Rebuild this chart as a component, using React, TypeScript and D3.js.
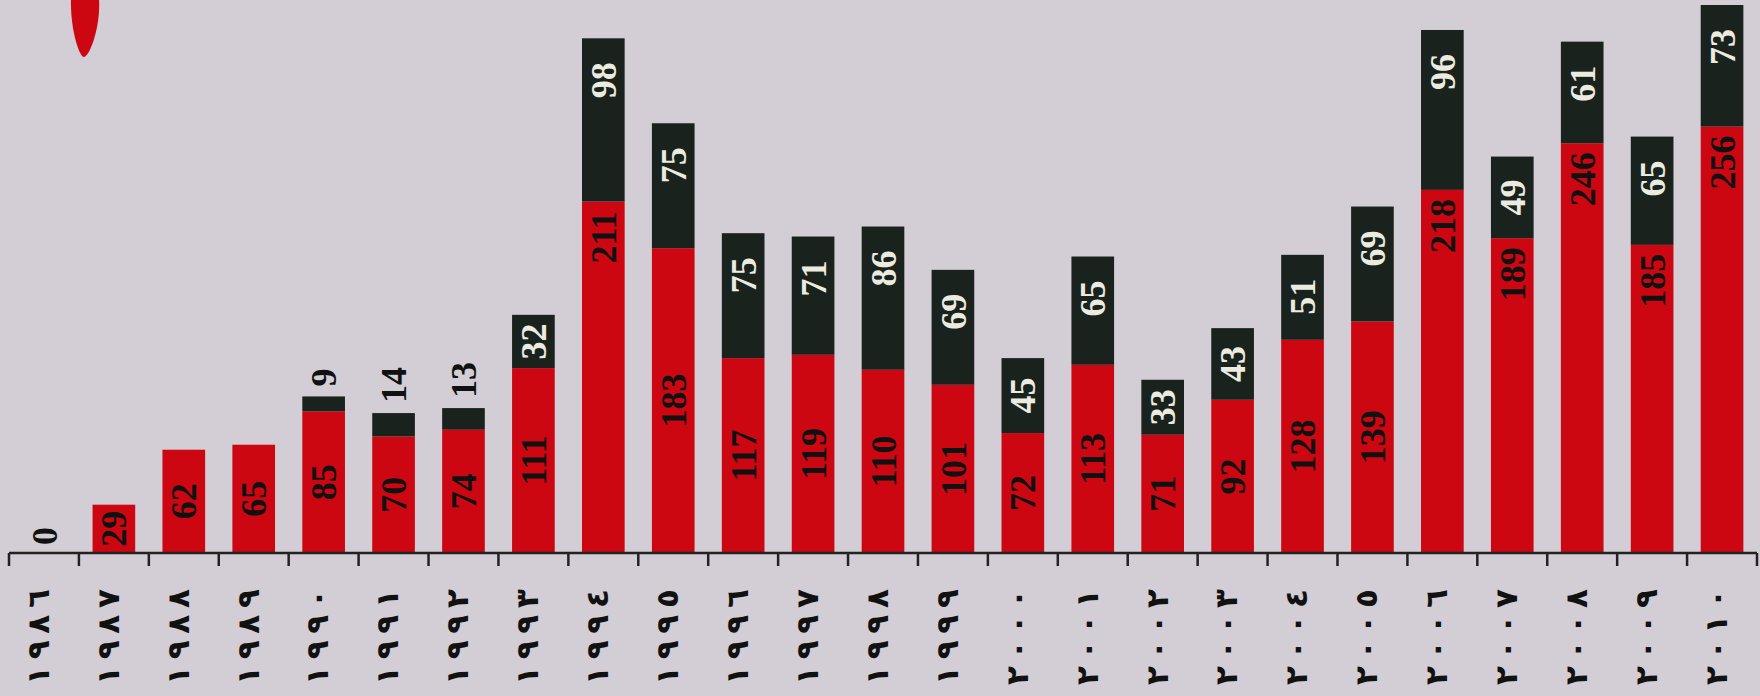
import React from "react";
import * as d3 from "d3";

const years = ["١٩٨٦","١٩٨٧","١٩٨٨","١٩٨٩","١٩٩٠","١٩٩١","١٩٩٢","١٩٩٣","١٩٩٤","١٩٩٥","١٩٩٦","١٩٩٧","١٩٩٨","١٩٩٩","٢٠٠٠","٢٠٠١","٢٠٠٢","٢٠٠٣","٢٠٠٤","٢٠٠٥","٢٠٠٦","٢٠٠٧","٢٠٠٨","٢٠٠٩","٢٠١٠"];
const redValues = [0, 29, 62, 65, 85, 70, 74, 111, 211, 183, 117, 119, 110, 101, 72, 113, 71, 92, 128, 139, 218, 189, 246, 185, 256];
const blackValues = [0, 0, 0, 0, 9, 14, 13, 32, 98, 75, 75, 71, 86, 69, 45, 65, 33, 43, 51, 69, 96, 49, 61, 65, 73];

const W = 1760, H = 696;
const BG = "#d3cdd5";
const RED = "#cc0711";
const DARK = "#19221d";
const LIGHT = "#ecebe0";

export default function App() {
  const baseY = 553;
  const x = d3.scaleBand<string>().domain(years).range([9, 1757]).paddingInner(0.39).paddingOuter(0.195);
  const y = d3.scaleLinear().domain([0, 329]).range([baseY, 5]);
  const step = x.step();
  const x0 = 9;
  const fs = 36;
  const labelFont = "'Liberation Serif', 'Times New Roman', serif";

  const rot = (cx: number, cy: number) => `translate(${cx},${cy}) rotate(-90)`;

  return (
    <svg width={W} height={H} style={{ position: "absolute", left: 0, top: 0 }}>
      <rect width={W} height={H} fill={BG} />
      <path d="M 71 -2 C 70 28, 79 57, 84 57 C 89 57, 101 28, 99 -2 Z" fill={RED} />
      {years.map((yr, i) => {
        const r = redValues[i];
        const b = blackValues[i];
        const bx = x(yr)!;
        const bw = x.bandwidth();
        const cx = bx + bw / 2;
        const redTop = y(r);
        const blackTop = y(r + b);
        const els: React.ReactNode[] = [];
        if (r > 0) {
          els.push(<rect key="r" x={bx} y={redTop} width={bw} height={baseY - redTop} fill={RED} />);
        }
        if (b > 0) {
          els.push(<rect key="b" x={bx} y={blackTop} width={bw} height={redTop - blackTop} fill={DARK} />);
        }
        if (r > 0) {
          const center = (redTop + baseY) / 2;
          const ly = r >= 185 ? redTop + 36 : center;
          els.push(
            <text key="rl" transform={rot(cx, ly)} textAnchor="middle" dy="0.35em"
              fontFamily={labelFont} fontWeight="bold" fontSize={fs} fill="#111">{r}</text>
          );
        } else {
          els.push(
            <text key="rl" transform={rot(cx, baseY - 8)} textAnchor="start" dy="0.35em"
              fontFamily={labelFont} fontWeight="bold" fontSize={fs} fill="#111">{r}</text>
          );
        }
        if (b > 0) {
          if (b < 20) {
            els.push(
              <text key="bl" transform={rot(cx, blackTop - 10)} textAnchor="start" dy="0.35em"
                fontFamily={labelFont} fontWeight="bold" fontSize={fs} fill="#111">{b}</text>
            );
          } else {
            const center = (blackTop + redTop) / 2;
            const ly = Math.min(center, blackTop + 42);
            els.push(
              <text key="bl" transform={rot(cx, ly)} textAnchor="middle" dy="0.35em"
                fontFamily={labelFont} fontWeight="bold" fontSize={fs} fill={LIGHT}>{b}</text>
            );
          }
        }
        els.push(
          <text key="yr" transform={rot(cx - 6, 637)} textAnchor="middle" dy="0.35em"
            textLength={96} lengthAdjust="spacing"
            fontFamily="'DejaVu Sans', sans-serif" fontWeight="bold" fontSize={31} fill="#111">{yr}</text>
        );
        return <g key={yr}>{els}</g>;
      })}
      <line x1={x0} x2={x0 + step * years.length} y1={baseY} y2={baseY} stroke="#222" strokeWidth={2.5} />
      {d3.range(years.length + 1).map((k) => (
        <line key={k} x1={x0 + k * step} x2={x0 + k * step} y1={baseY} y2={baseY + 13} stroke="#222" strokeWidth={2.5} />
      ))}
    </svg>
  );
}
